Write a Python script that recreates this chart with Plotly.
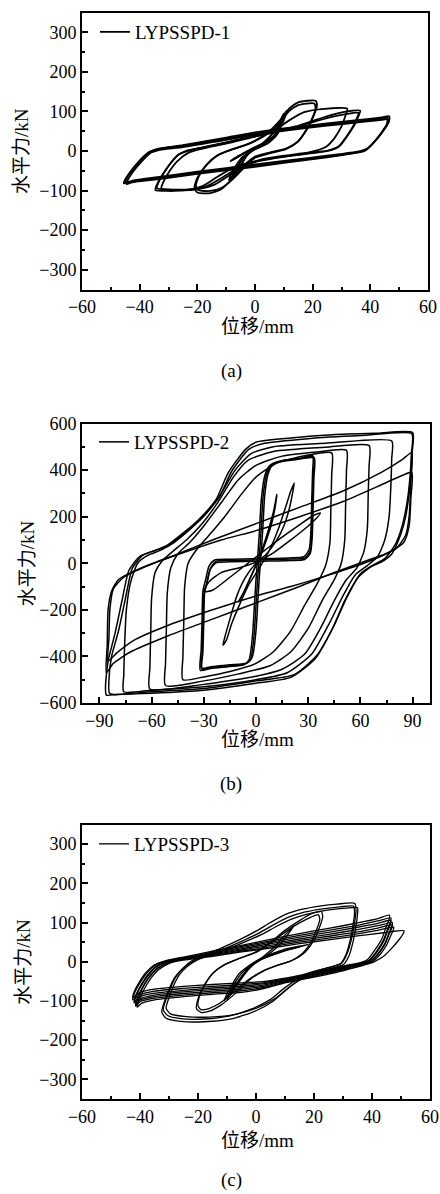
import plotly.graph_objects as go

# ---------------- Panel (a) LYPSSPD-1 : loops as (displacement mm, force kN) ----------------
A46_1 = [(46.5,88),(46.5,76),(45,56),(42,28),(39,6),(36,-1),(25,-12),(10,-25),(0,-34),(-10,-43),(-20,-52),(-30,-62),(-38,-70),(-43,-76),(-45.5,-82),(-45.3,-76),(-43.5,-55),(-40.5,-28),(-37,-4),(-34,5),(-25,15),(-10,34),(0,47),(10,57),(25,70),(38,80),(44,85),(46.5,88)]
A46_2 = [(46,84),(46,72),(44.5,52),(41.5,24),(38.5,3),(35,-4),(25,-14),(10,-28),(0,-37),(-10,-46),(-20,-55),(-30,-65),(-38,-72),(-43,-78),(-45,-80),(-44.8,-73),(-43,-52),(-40,-26),(-36.5,-2),(-33,6),(-25,13),(-10,31),(0,44),(10,54),(25,67),(38,77),(44,82),(46,84)]
A46_3 = [(45.8,80),(45.8,68),(44,48),(41,20),(38,0),(34,-6),(25,-16),(10,-30),(0,-40),(-10,-49),(-20,-58),(-30,-68),(-38,-75),(-43,-80),(-44.5,-84),(-44.3,-76),(-42.5,-54),(-39.5,-28),(-36,-4),(-32,4),(-25,10),(-10,28),(0,41),(10,51),(25,64),(38,74),(44,79),(45.8,80)]
A36_1 = [(36.5,102),(36,90),(34.5,66),(32,38),(29.5,14),(26,2),(18,-6),(8,-16),(0,-26),(-7,-40),(-13,-65),(-18,-88),(-24,-99),(-30,-101),(-34.5,-99),(-34.3,-90),(-32.5,-65),(-30,-38),(-27,-12),(-23,2),(-15,14),(-5,30),(5,45),(14,62),(20,76),(26,90),(31,99),(36.5,102)]
A36_2 = [(36,97),(35.5,86),(34,62),(31.5,34),(29,11),(25,0),(17,-8),(7,-18),(0,-28),(-6,-44),(-12,-70),(-17,-90),(-23,-97),(-30,-97),(-34,-94),(-33.8,-85),(-32,-60),(-29.5,-33),(-26.5,-9),(-22,3),(-14,15),(-4,31),(6,46),(14,60),(21,75),(27,87),(32,94),(36,97)]
A32 = [(32,107),(31.5,92),(30,62),(27.5,32),(24.5,10),(19,-3),(10,-12),(2,-22),(-4,-38),(-9,-62),(-14,-85),(-20,-97),(-27,-99),(-32.5,-95),(-32,-82),(-30,-55),(-27,-26),(-23,-4),(-17,8),(-8,22),(0,36),(7,54),(12,78),(17,98),(23,106),(32,107)]
A20_1 = [(21,127),(21.5,115),(20.5,92),(18,55),(15,25),(11,7),(5,-4),(0,-14),(-4,-38),(-8,-72),(-12,-98),(-16,-107),(-20,-105),(-21,-93),(-20,-68),(-17,-36),(-13,-11),(-8,4),(-2,19),(4,44),(9,80),(12,108),(15,123),(21,127)]
A20_2 = [(20.5,120),(21,108),(20,85),(17.5,50),(14.5,21),(10.5,4),(5,-6),(0,-17),(-3.5,-40),(-7.5,-70),(-11.5,-93),(-15.5,-101),(-19.5,-99),(-20.5,-88),(-19.5,-64),(-16.5,-33),(-12.5,-9),(-7.5,5),(-1.5,20),(4.5,44),(9,76),(12,102),(15,116),(20.5,120)]
A10_1 = [(11,103),(10.5,88),(9,62),(7,38),(5,22),(2,11),(-1,1),(-3,-14),(-5,-38),(-7,-58),(-9,-74),(-8.5,-62),(-6.5,-36),(-4.5,-16),(-1.5,-1),(1.5,13),(4.5,32),(7,52),(9,78),(11,103)]
A10_2 = [(10,95),(9.5,80),(8,56),(6,33),(4,18),(1,8),(-2,-3),(-4,-18),(-6,-40),(-8,-66),(-7.5,-55),(-5.5,-32),(-3.5,-13),(-0.5,2),(2.5,16),(5,34),(7.5,58),(10,95)]
A5_1 = [(8,45),(7,36),(4.5,24),(1,12),(-3,-2),(-6,-15),(-8.5,-26),(-7.5,-20),(-4.5,-8),(-1,6),(3,20),(6,34),(8,45)]
A5_2 = [(7,38),(6,30),(3.5,20),(0,8),(-4,-6),(-7,-20),(-6,-14),(-3,-3),(0.5,10),(4,24),(7,38)]
PANEL_A = [A46_1, A46_2, A46_3, A36_1, A36_2, A32, A20_1, A20_2, A10_1, A10_2, A5_1, A5_2]

# ---------------- Panel (b) LYPSSPD-2 ----------------
B89_1 = [(90,561),(89.8,480),(89,380),(88,300),(86,200),(83,120),(78,40),(72,5),(66,-15),(59,-58),(51,-160),(44,-280),(34,-410),(20,-490),(0,-515),(-30,-545),(-60,-558),(-80,-563),(-86,-566),(-86.5,-530),(-85,-420),(-81,-300),(-77,-160),(-73,-30),(-67,28),(-60,50),(-52,72),(-42,129),(-33,187),(-23,273),(-16,388),(-6,489),(0,520),(20,538),(44,552),(70,558),(90,561)]
B89_2 = [(89.5,556),(89.3,470),(88.5,370),(87,270),(84,160),(80,80),(74,20),(68,-5),(60,-45),(52,-150),(45,-265),(35,-395),(22,-478),(0,-505),(-30,-538),(-60,-552),(-84,-560),(-84.5,-500),(-83,-400),(-79,-290),(-75,-150),(-71,-20),(-65,35),(-58,55),(-50,80),(-40,135),(-31,195),(-21,285),(-14,395),(-4,490),(5,515),(30,535),(60,548),(89.5,556)]
B78 = [(78,525),(78,450),(77.5,330),(76.5,200),(74,100),(70,30),(64,-10),(57,-50),(50,-140),(42,-260),(32,-390),(18,-470),(0,-500),(-30,-530),(-60,-545),(-76,-552),(-76,-480),(-75.5,-350),(-74.5,-200),(-72,-80),(-68,0),(-62,35),(-55,55),(-47,90),(-38,145),(-29,210),(-20,300),(-12,400),(-3,470),(10,500),(40,515),(78,525)]
B65 = [(65,505),(65,420),(64.5,300),(64,150),(62,50),(58,-20),(52,-70),(45,-160),(37,-280),(28,-390),(15,-455),(0,-485),(-30,-520),(-61,-540),(-61,-450),(-60.5,-300),(-60,-150),(-58,-40),(-54,10),(-48,50),(-40,100),(-31,170),(-22,260),(-13,370),(-5,440),(10,480),(40,498),(65,505)]
B52 = [(52,485),(52,400),(51.5,250),(51,100),(49,0),(45,-70),(38,-160),(30,-280),(20,-380),(8,-440),(-10,-475),(-30,-505),(-52,-525),(-52,-430),(-51.5,-280),(-51,-130),(-49,-20),(-45,40),(-38,90),(-30,160),(-20,260),(-10,360),(0,420),(15,460),(35,478),(52,485)]
B43 = [(43.5,474),(43.5,380),(43,230),(42.5,90),(40,-10),(35,-90),(28,-180),(20,-290),(10,-380),(0,-430),(-15,-465),(-30,-488),(-42,-500),(-42,-400),(-41.5,-250),(-41,-100),(-39,0),(-34,60),(-27,120),(-18,200),(-8,300),(0,370),(12,430),(28,462),(43.5,474)]
B33_1 = [(33,458),(33,380),(32.5,250),(32,120),(31,50),(28,22),(20,18),(5,15),(-15,12),(-23,8),(-26,-20),(-28,-80),(-29.5,-125),(-30,-250),(-30.5,-380),(-31,-455),(-25,-448),(-15,-440),(-6,-432),(-3,-410),(-1,-300),(0,-180),(1,-60),(2,40),(3,150),(4,280),(6,380),(9,425),(15,440),(25,450),(33,458)]
B33_2 = [(33.5,452),(33.3,370),(32.8,240),(32.3,110),(31.2,42),(28,16),(20,12),(5,9),(-15,6),(-23,2),(-26.5,-28),(-28.5,-90),(-30,-135),(-30.5,-260),(-31,-390),(-31.5,-450),(-25,-443),(-15,-436),(-5,-428),(-2,-400),(0,-290),(1,-170),(2,-50),(3,50),(4,160),(5,290),(7,385),(10,428),(16,442),(26,449),(33.5,452)]
B33_3 = [(32.5,462),(32.5,390),(32,260),(31.5,130),(30.5,58),(27.5,28),(19,23),(4,20),(-16,17),(-24,13),(-27,-12),(-29,-72),(-30.5,-118),(-31,-240),(-31.5,-370),(-32,-460),(-26,-452),(-16,-444),(-7,-436),(-4,-415),(-2,-310),(-1,-190),(0,-70),(1,30),(2,140),(3,270),(5,375),(8,420),(14,436),(24,447),(32.5,462)]
B37 = [(37,216),(35,195),(30,160),(20,100),(10,45),(0,5),(-10,-20),(-20,-40),(-27,-80),(-30,-122),(-25,-116),(-15,-60),(-5,-2),(5,55),(15,112),(25,165),(33,205),(37,216)]
B22 = [(22,345),(21,300),(19,230),(16,160),(12,100),(6,40),(0,0),(-6,-60),(-11,-140),(-15,-240),(-18,-320),(-19,-352),(-17,-330),(-14,-260),(-9,-170),(-4,-90),(2,-20),(8,60),(13,150),(17,240),(20,310),(22,345)]
B12 = [(12,295),(11,240),(9,170),(6,100),(3,40),(0,-10),(-3,-60),(-6,-110),(-9,-150),(-10,-166),(-8,-140),(-5,-90),(-2,-40),(1,10),(4,70),(7,140),(10,220),(12,295)]
BD1 = [(89.5,475),(89,350),(88,200),(86,120),(80,60),(65,15),(45,-40),(25,-100),(0,-170),(-25,-240),(-50,-310),(-72,-380),(-82,-430),(-86,-470),(-85.5,-350),(-85,-200),(-83,-120),(-79,-70),(-66,-20),(-45,40),(-25,100),(0,170),(25,240),(50,310),(72,390),(84,445),(89.5,475)]
BD2 = [(89.5,390),(89,280),(88,160),(85,90),(76,45),(62,0),(42,-50),(20,-100),(0,-140),(-25,-200),(-50,-265),(-70,-330),(-80,-385),(-85,-420),(-84.5,-320),(-84,-200),(-82,-110),(-76,-60),(-62,-10),(-42,45),(-20,100),(0,140),(25,200),(50,265),(70,330),(82,370),(89.5,390)]
PANEL_B = [B89_1, B89_2, B78, B65, B52, B43, B33_1, B33_2, B33_3, B37, B22, B12, BD1, BD2]

# ---------------- Panel (c) LYPSSPD-3 ----------------
C46_1 = [(46,119),(45.8,106),(45,92),(43.5,60),(41,30),(38.5,6),(36,-2),(30,-11),(20,-27),(10,-42),(3,-50),(-5,-54),(-15,-58),(-25,-63),(-35,-70),(-40,-78),(-42.5,-91),(-42.2,-80),(-40.5,-55),(-38,-28),(-35,-8),(-31,3),(-25,12),(-15,27),(-5,42),(5,57),(15,72),(25,85),(35,99),(42,110),(46,119)]
C46_2 = [(46.5,112),(46.3,100),(45.5,86),(44,56),(41.5,26),(39,4),(36.5,-3),(30,-13),(20,-29),(10,-44),(3,-53),(-5,-58),(-15,-63),(-25,-68),(-35,-75),(-40,-84),(-42.5,-97),(-42.2,-86),(-40.5,-60),(-38,-32),(-35,-10),(-31,2),(-25,10),(-15,24),(-5,39),(5,53),(15,67),(25,80),(35,93),(42,104),(46.5,112)]
C46_3 = [(46.5,106),(46.3,95),(45.5,81),(44,52),(41.5,23),(39,3),(36.5,-4),(30,-15),(20,-31),(10,-46),(3,-56),(-5,-62),(-15,-67),(-25,-73),(-35,-80),(-40,-89),(-42,-101),(-41.7,-90),(-40,-64),(-37.5,-35),(-34.5,-12),(-30.5,1),(-25,9),(-15,22),(-5,36),(5,50),(15,63),(25,75),(35,88),(42,98),(46.5,106)]
C46_4 = [(47,100),(46.8,90),(46,76),(44.5,48),(42,20),(39.5,2),(37,-5),(30,-17),(20,-33),(10,-48),(3,-59),(-5,-66),(-15,-71),(-25,-77),(-35,-85),(-40,-94),(-42,-105),(-41.7,-94),(-40,-67),(-37.5,-38),(-34.5,-14),(-30.5,0),(-25,8),(-15,20),(-5,33),(5,46),(15,58),(25,70),(35,82),(42,92),(47,100)]
C46_5 = [(47,94),(46.8,85),(46,72),(44.5,45),(42,18),(39.5,1),(37,-6),(30,-19),(20,-35),(10,-50),(3,-62),(-5,-70),(-15,-75),(-25,-81),(-35,-89),(-40,-98),(-41.5,-109),(-41.2,-98),(-39.5,-70),(-37,-40),(-34,-16),(-30,-1),(-25,7),(-15,18),(-5,30),(5,42),(15,54),(25,65),(35,76),(42,86),(47,94)]
C46_6 = [(47.5,88),(47.3,80),(46.5,67),(45,42),(42.5,16),(40,0),(37.5,-7),(30,-21),(20,-37),(10,-52),(3,-65),(-5,-74),(-15,-79),(-25,-85),(-35,-93),(-40,-102),(-41.5,-113),(-41.2,-102),(-39.5,-73),(-37,-42),(-34,-18),(-30,-2),(-25,6),(-15,16),(-5,27),(5,38),(15,50),(25,60),(35,71),(42,80),(47.5,88)]
C50 = [(51,79),(50.8,72),(49.5,58),(47,36),(44,14),(41,1),(38,-7),(30,-23),(20,-39),(10,-54),(3,-68),(-5,-78),(-15,-83),(-25,-89),(-35,-97),(-39.5,-106),(-41,-116),(-40.7,-105),(-39,-76),(-36.5,-45),(-33.5,-20),(-29.5,-3),(-25,4),(-15,14),(-5,25),(5,35),(15,46),(25,56),(35,66),(44,74),(51,79)]
C35_1 = [(34,149),(34.5,132),(34,100),(33,60),(31.5,22),(29.5,-4),(25,-15),(18,-30),(11,-68),(6,-100),(0,-125),(-8,-145),(-18,-153),(-26,-152),(-31,-144),(-32.5,-128),(-31.5,-100),(-30,-70),(-28,-40),(-25,-15),(-22,3),(-18,17),(-12,35),(-6,55),(0,78),(5,100),(10,120),(16,134),(22,142),(28,147),(34,149)]
C35_2 = [(33.5,142),(34,126),(33.5,96),(32.5,56),(31,18),(29,-6),(24,-17),(17,-32),(10,-66),(5,-96),(-1,-119),(-9,-138),(-18,-146),(-26,-145),(-30.5,-137),(-32,-122),(-31,-96),(-29.5,-66),(-27.5,-37),(-24.5,-13),(-21,4),(-17,16),(-11,33),(-5,52),(1,73),(6,94),(11,113),(17,127),(23,135),(29,140),(33.5,142)]
C35_3 = [(35,138),(35,122),(34.5,92),(33.5,52),(32,14),(30,-8),(25,-19),(18,-34),(12,-62),(7,-92),(1,-116),(-7,-134),(-16,-141),(-24,-140),(-29.5,-133),(-31,-118),(-30,-92),(-28.5,-62),(-26.5,-34),(-23.5,-11),(-20,5),(-16,16),(-10,32),(-4,50),(2,70),(7,90),(12,108),(18,122),(24,131),(30,136),(35,138)]
C22_1 = [(22.5,128),(23,115),(22,90),(20,55),(17,25),(13,5),(8,-8),(3,-22),(-2,-45),(-7,-80),(-12,-110),(-16,-126),(-19,-129),(-20.5,-120),(-20,-95),(-18,-62),(-15,-30),(-11,-8),(-6,8),(0,25),(5,50),(10,80),(15,105),(19,122),(22.5,128)]
C22_2 = [(21.5,120),(22,108),(21,84),(19,50),(16,21),(12,2),(7,-10),(2,-25),(-3,-48),(-8,-80),(-12.5,-106),(-16.5,-120),(-19,-122),(-20,-112),(-19.5,-88),(-17.5,-57),(-14.5,-27),(-10.5,-6),(-5.5,9),(0.5,26),(5.5,50),(10.5,78),(15,99),(19,114),(21.5,120)]
C13_1 = [(18,44),(15,38),(10,28),(5,15),(0,0),(-3,-20),(-6,-50),(-9,-80),(-11,-100),(-10.5,-90),(-8.5,-62),(-6,-32),(-2,-8),(2,10),(6,22),(11,34),(18,44)]
C13_2 = [(15,38),(12,33),(8,24),(3,10),(-1,-5),(-4,-28),(-7,-58),(-10,-92),(-9,-78),(-7,-50),(-4,-22),(0,-2),(4,14),(9,27),(15,38)]
C13_3 = [(13,92),(12,80),(10,60),(7,35),(3,12),(-1,-8),(-5,-40),(-8,-75),(-10,-97),(-8.5,-80),(-5.5,-48),(-2,-15),(2,10),(6,35),(9,60),(13,92)]
PANEL_C = [C46_1, C46_2, C46_3, C46_4, C46_5, C46_6, C50, C35_1, C35_2, C35_3, C22_1, C22_2, C13_1, C13_2, C13_3]

NAMES = ["LYPSSPD-1", "LYPSSPD-2", "LYPSSPD-3"]
LABELS = ["(a)", "(b)", "(c)"]
X_TITLE = "位移/mm"
Y_TITLE = "水平力/kN"

FONT = "'Liberation Serif', 'Times New Roman', 'Noto Sans CJK SC', serif"
W, H = 440, 1194


def px_x(p):
    return p / W


def px_y(p):
    return 1 - p / H


def flatten(loops):
    xs, ys = [], []
    for lp in loops:
        xs += [p[0] for p in lp] + [None]
        ys += [p[1] for p in lp] + [None]
    return xs, ys


fig = go.Figure()

panels = [
    dict(data=PANEL_A, xdom=(82, 428), ydom=(12.5, 289.5), xr=(-60, 60), yr=(-350, 350), lw=1.8,
         xdt=20, xmin=10, ydt=100, ymin=50, ytitle_x=21, xtitle_y=326, lab_y=371, leg=(95, 32)),
    dict(data=PANEL_B, xdom=(82, 430), ydom=(423.5, 703), xr=(-100, 100), yr=(-600, 600), lw=1.5,
         xdt=30, xmin=15, ydt=200, ymin=100, ytitle_x=27, xtitle_y=739, lab_y=784, leg=(94, 442)),
    dict(data=PANEL_C, xdom=(82, 430), ydom=(824.5, 1099), xr=(-60, 60), yr=(-350, 350), lw=1.3,
         xdt=20, xmin=10, ydt=100, ymin=50, ytitle_x=24, xtitle_y=1140, lab_y=1180, leg=(94, 844)),
]

annotations = []
for i, pn in enumerate(panels):
    n = i + 1
    sx = "" if n == 1 else str(n)
    xs, ys = flatten(pn["data"])
    legname = "legend" if n == 1 else "legend%d" % n
    fig.add_trace(go.Scatter(
        x=xs, y=ys, mode="lines", name=NAMES[i],
        line=dict(color="black", width=pn["lw"], shape="spline", smoothing=0.6),
        xaxis="x" + sx, yaxis="y" + sx, legend=legname, showlegend=True,
        hoverinfo="skip"))
    axcommon = dict(
        showline=True, linecolor="black", linewidth=1.8, mirror=True,
        ticks="inside", ticklen=6, tickwidth=1.5, tickcolor="black",
        showgrid=False, zeroline=False, automargin=False,
        tickfont=dict(family=FONT, size=18, color="black"),
    )
    fig.update_layout(**{
        "xaxis" + sx: dict(domain=[px_x(pn["xdom"][0]), px_x(pn["xdom"][1])],
                           range=list(pn["xr"]), dtick=pn["xdt"], tick0=0,
                           anchor="y" + sx,
                           minor=dict(dtick=pn["xmin"], tick0=0, ticks="inside", ticklen=3,
                                      tickwidth=1.5, tickcolor="black", showgrid=False),
                           **axcommon),
        "yaxis" + sx: dict(domain=[px_y(pn["ydom"][1]), px_y(pn["ydom"][0])],
                           range=list(pn["yr"]), dtick=pn["ydt"], tick0=0,
                           anchor="x" + sx,
                           minor=dict(dtick=pn["ymin"], tick0=0, ticks="inside", ticklen=3,
                                      tickwidth=1.5, tickcolor="black", showgrid=False),
                           **axcommon),
        legname: dict(x=px_x(pn["leg"][0]), y=px_y(pn["leg"][1]), xanchor="left",
                      yanchor="middle", bgcolor="rgba(0,0,0,0)", borderwidth=0,
                      font=dict(family=FONT, size=19, color="black")),
    })
    annotations.append(dict(text=Y_TITLE, textangle=-90, x=px_x(pn["ytitle_x"]),
                            y=px_y((pn["ydom"][0] + pn["ydom"][1]) / 2),
                            xref="paper", yref="paper", showarrow=False,
                            xanchor="center", yanchor="middle",
                            font=dict(family=FONT, size=19, color="black")))
    annotations.append(dict(text=X_TITLE, x=px_x(257), y=px_y(pn["xtitle_y"]),
                            xref="paper", yref="paper", showarrow=False,
                            xanchor="center", yanchor="middle",
                            font=dict(family=FONT, size=19, color="black")))
    annotations.append(dict(text=LABELS[i], x=px_x(231), y=px_y(pn["lab_y"]),
                            xref="paper", yref="paper", showarrow=False,
                            xanchor="center", yanchor="middle",
                            font=dict(family=FONT, size=19, color="black")))

fig.update_layout(template="none", width=W, height=H, margin=dict(l=0, r=0, t=0, b=0, pad=0),
                  paper_bgcolor="white", plot_bgcolor="white",
                  annotations=annotations, showlegend=True)

fig.write_html("out.html")
